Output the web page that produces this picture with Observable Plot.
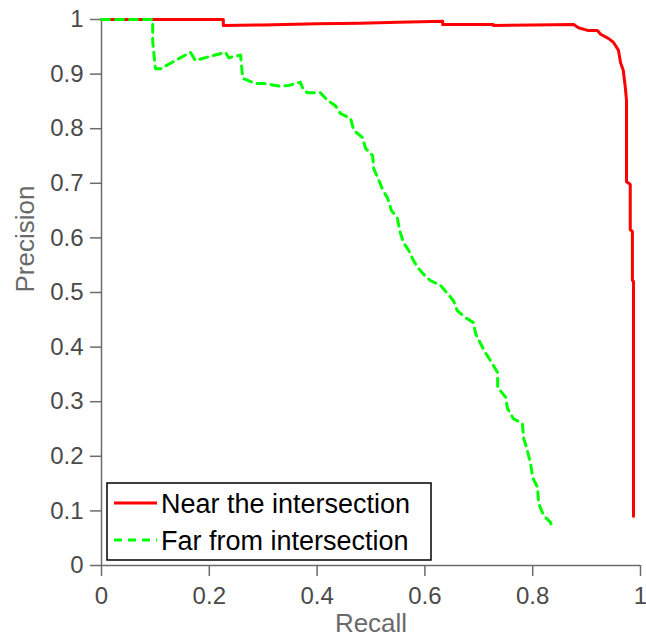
<!DOCTYPE html>
<html>
<head>
<meta charset="utf-8">
<script src="https://cdn.jsdelivr.net/npm/d3@7"></script>
<script src="https://cdn.jsdelivr.net/npm/@observablehq/plot@0.6"></script>
<style>
  html, body { margin: 0; padding: 0; background: #fff; }
  #chart { position: relative; width: 646px; height: 639px; }
</style>
</head>
<body>
<div id="chart"></div>
<script>
// Series names
const seriesNames = ["Near the intersection", "Far from intersection"];

// "Near the intersection" PR curve
const nearRecall = [0, 0.226, 0.226, 0.30, 0.40, 0.48, 0.55, 0.633, 0.633, 0.727, 0.727, 0.80, 0.876, 0.885, 0.902, 0.920, 0.926, 0.941, 0.950, 0.959, 0.963, 0.968, 0.972, 0.974, 0.974, 0.981, 0.981, 0.985, 0.985, 0.987, 0.987];
const nearPrecision = [1, 1, 0.989, 0.990, 0.992, 0.993, 0.995, 0.997, 0.991, 0.991, 0.989, 0.990, 0.991, 0.985, 0.980, 0.980, 0.973, 0.965, 0.958, 0.944, 0.921, 0.907, 0.874, 0.852, 0.703, 0.698, 0.615, 0.612, 0.522, 0.520, 0.09];

// "Far from intersection" PR curve
const farRecall = [0, 0.095, 0.095, 0.100, 0.110, 0.165, 0.174, 0.230, 0.236, 0.258, 0.262, 0.285, 0.300, 0.330, 0.347, 0.369, 0.375, 0.382, 0.406, 0.419, 0.434, 0.443, 0.462, 0.468, 0.484, 0.490, 0.503, 0.505, 0.514, 0.521, 0.531, 0.538, 0.549, 0.553, 0.560, 0.570, 0.577, 0.585, 0.596, 0.610, 0.629, 0.642, 0.653, 0.660, 0.675, 0.690, 0.694, 0.703, 0.712, 0.725, 0.735, 0.735, 0.750, 0.753, 0.764, 0.781, 0.783, 0.790, 0.796, 0.800, 0.809, 0.811, 0.820, 0.833, 0.836];
const farPrecision = [1, 1, 0.960, 0.910, 0.910, 0.940, 0.925, 0.940, 0.930, 0.935, 0.892, 0.883, 0.883, 0.878, 0.879, 0.885, 0.870, 0.866, 0.866, 0.852, 0.842, 0.828, 0.819, 0.797, 0.784, 0.764, 0.751, 0.727, 0.707, 0.690, 0.672, 0.650, 0.636, 0.614, 0.592, 0.577, 0.562, 0.548, 0.535, 0.522, 0.513, 0.498, 0.485, 0.467, 0.454, 0.445, 0.425, 0.407, 0.390, 0.370, 0.353, 0.326, 0.308, 0.288, 0.269, 0.260, 0.234, 0.211, 0.187, 0.161, 0.143, 0.114, 0.092, 0.079, 0.070];

// Tick values and labels
const xTicks = [0, 0.2, 0.4, 0.6, 0.8, 1];
const xTickLabels = ["0", "0.2", "0.4", "0.6", "0.8", "1"];
const yTicks = [0, 0.1, 0.2, 0.3, 0.4, 0.5, 0.6, 0.7, 0.8, 0.9, 1];
const yTickLabels = ["0", "0.1", "0.2", "0.3", "0.4", "0.5", "0.6", "0.7", "0.8", "0.9", "1"];
const xLabel = "Recall";
const yLabel = "Precision";

const near = nearRecall.map((r, i) => ({recall: r, precision: nearPrecision[i]}));
const far = farRecall.map((r, i) => ({recall: r, precision: farPrecision[i]}));

const axisColor = "#6b6b6b";
const tickTextColor = "#4a4a4a";
const font = "Liberation Sans, Arial, sans-serif";

const plot = Plot.plot({
  width: 646,
  height: 639,
  marginLeft: 101,
  marginRight: 6,
  marginTop: 19,
  marginBottom: 74,
  style: {background: "#fff", fontFamily: font},
  x: {domain: [0, 1]},
  y: {domain: [0, 1]},
  marks: [
    Plot.axisX({ticks: xTicks, tickFormat: (d, i) => xTickLabels[i], tickSize: 11, tickPadding: 10,
      stroke: axisColor, strokeWidth: 1.5, fill: tickTextColor, fontSize: 24, label: null}),
    Plot.axisY({ticks: yTicks, tickFormat: (d, i) => yTickLabels[i], tickSize: 11, tickPadding: 7,
      stroke: axisColor, strokeWidth: 1.5, fill: tickTextColor, fontSize: 24, label: null}),
    Plot.ruleY([0], {stroke: axisColor, strokeWidth: 1.5}),
    Plot.ruleX([0], {stroke: axisColor, strokeWidth: 1.5}),
    Plot.text([xLabel], {frameAnchor: "bottom", dy: 58, fontSize: 26, fill: "#6a6a6a", lineAnchor: "middle"}),
    Plot.text([yLabel], {frameAnchor: "left", dx: -76, rotate: -90, fontSize: 26, fill: "#6a6a6a", lineAnchor: "middle"}),
    Plot.line(near, {x: "recall", y: "precision", stroke: "#ff0000", strokeWidth: 3}),
    Plot.line(far, {x: "recall", y: "precision", stroke: "#00ff00", strokeWidth: 3, strokeDasharray: "8,6"})
  ]
});

document.getElementById("chart").appendChild(plot);

// Legend (drawn into the plot's SVG)
const svg = d3.select(plot);
const lg = svg.append("g")
  .attr("font-family", "Liberation Sans, Arial, sans-serif")
  .attr("text-anchor", "start");
lg.append("rect").attr("x", 107).attr("y", 483).attr("width", 324).attr("height", 77)
  .attr("fill", "#fff").attr("stroke", "#000").attr("stroke-width", 1.5);
const legendItems = [
  {name: seriesNames[0], color: "#ff0000", dash: null},
  {name: seriesNames[1], color: "#00ff00", dash: "8,6"}
];
legendItems.forEach((it, i) => {
  const cy = 503 + i * 37;
  lg.append("line").attr("x1", 114).attr("x2", 157).attr("y1", cy).attr("y2", cy)
    .attr("stroke", it.color).attr("stroke-width", 3).attr("stroke-dasharray", it.dash);
  lg.append("text").attr("x", 161).attr("y", cy + 10).attr("font-size", 27)
    .attr("fill", "#000").attr("text-anchor", "start").text(it.name);
});
</script>
</body>
</html>
